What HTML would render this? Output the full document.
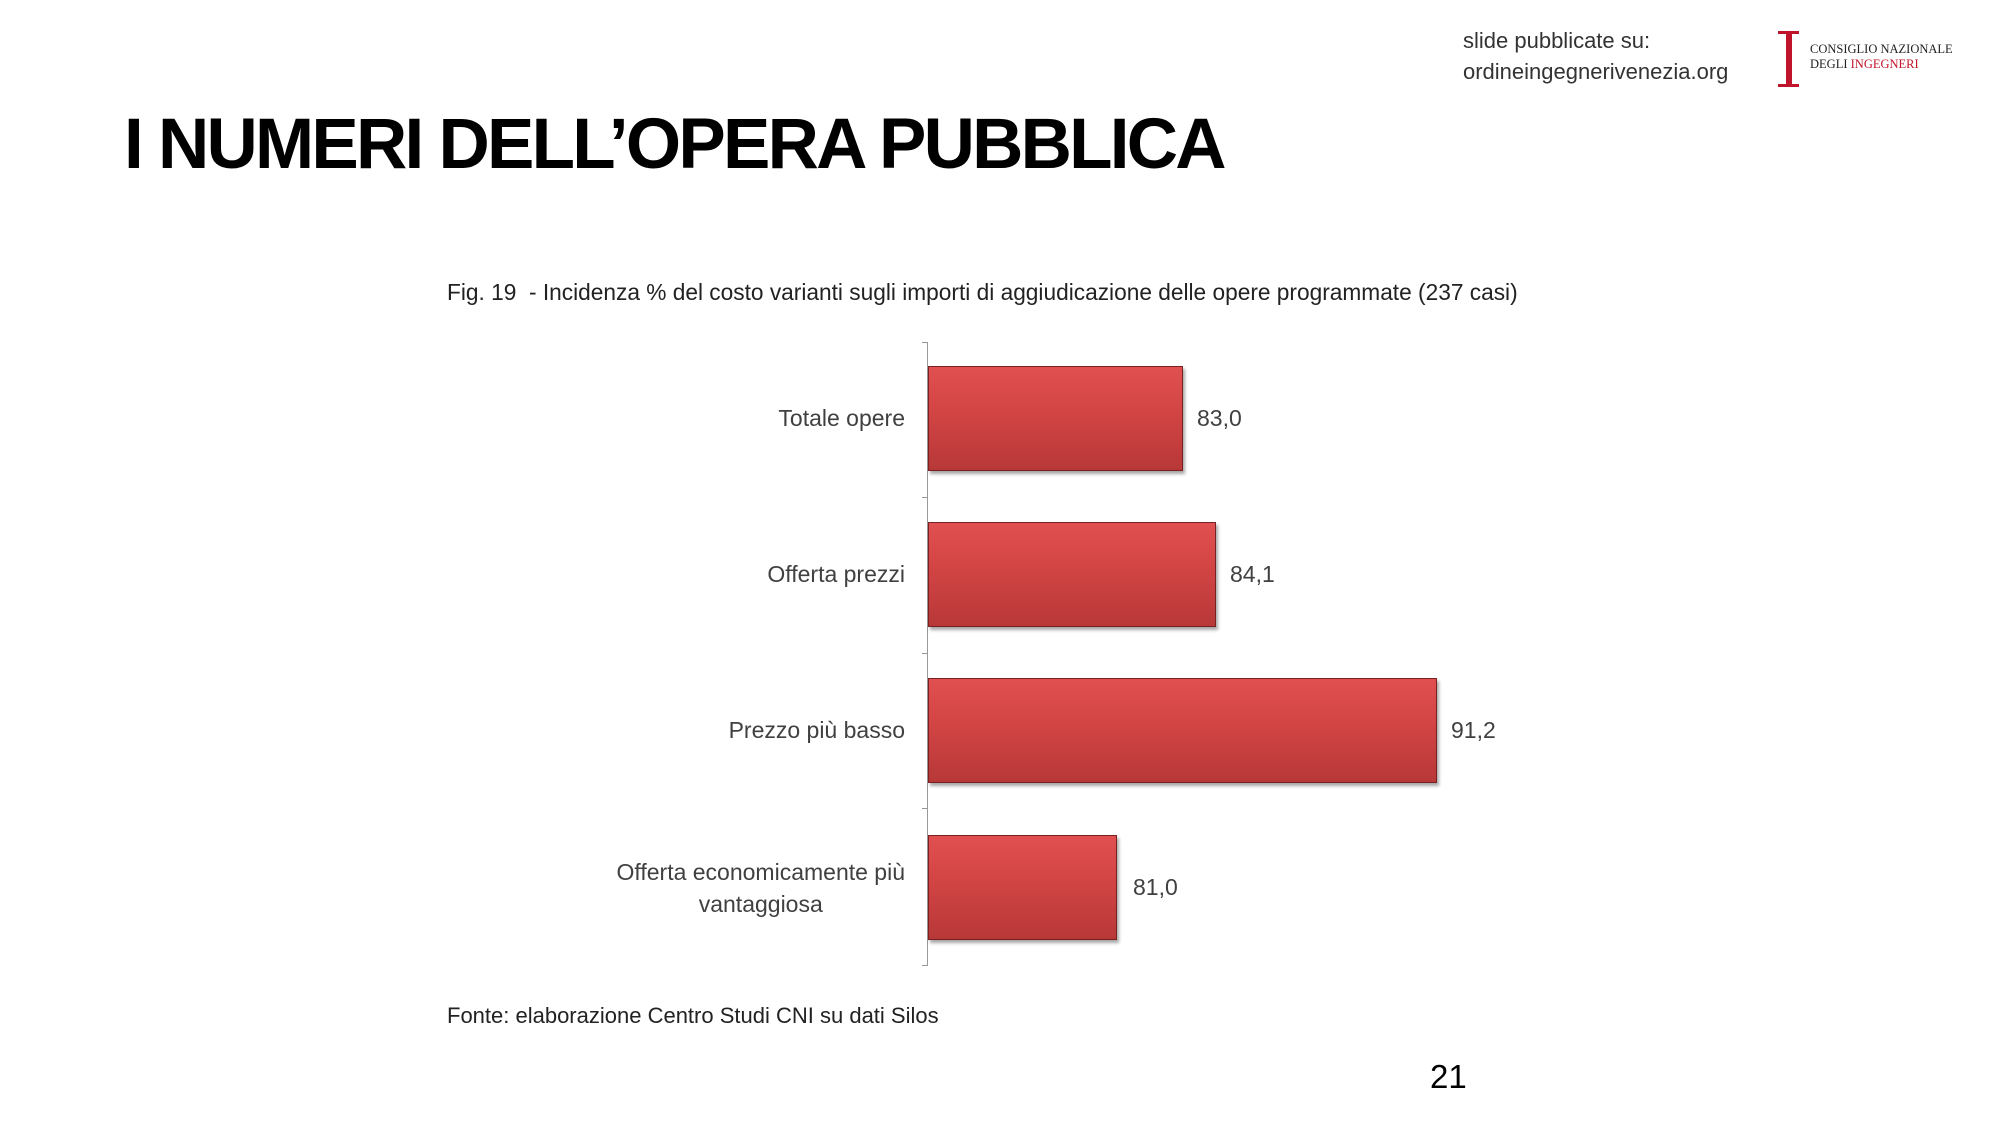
<!DOCTYPE html>
<html><head><meta charset="utf-8"><style>
body{margin:0;width:2000px;height:1125px;background:#fff;position:relative;overflow:hidden;font-family:"Liberation Sans",sans-serif}
.a{position:absolute;white-space:nowrap}
.bar{position:absolute;left:928px;height:105px;background:linear-gradient(180deg,#e05050 0%,#d44545 40%,#b83838 100%);border:1px solid #7a2020;box-shadow:2px 3px 3px rgba(0,0,0,.35);box-sizing:border-box}
.lab{position:absolute;right:1095px;text-align:right;font-size:23px;color:#404040;line-height:32px}
.val{position:absolute;font-size:23px;color:#404040}
.tk{position:absolute;left:922px;width:6px;height:1px;background:#999}
</style></head><body>
<div class="a" style="left:1463px;top:28px;font-size:22px;color:#333">slide pubblicate su:</div>
<div class="a" style="left:1463px;top:59px;font-size:22px;color:#333">ordineingegnerivenezia.org</div>
<div class="a" style="left:1778px;top:31px;width:21px;height:56px">
<div style="position:absolute;left:8px;top:0;width:6px;height:56px;background:#c0142a"></div>
<div style="position:absolute;left:0;top:0;width:21px;height:3px;background:#c0142a"></div>
<div style="position:absolute;left:0;bottom:0;width:21px;height:3px;background:#c0142a"></div></div>
<div class="a" style="left:1810px;top:42px;font-family:'Liberation Serif',serif;font-size:12.5px;color:#222;line-height:15px">CONSIGLIO NAZIONALE<br>DEGLI <span style="color:#c0142a">INGEGNERI</span></div>
<div class="a" style="left:124px;top:104px;font-size:71px;font-weight:bold;color:#000;letter-spacing:-2.75px">I NUMERI DELL’OPERA PUBBLICA</div>
<div class="a" style="left:447px;top:279px;font-size:22.7px;color:#222">Fig. 19&nbsp; - Incidenza % del costo varianti sugli importi di aggiudicazione delle opere programmate (237 casi)</div>
<div class="a" style="left:927px;top:342px;width:1px;height:623px;background:#999"></div>
<div class="tk" style="top:342px"></div><div class="tk" style="top:497px"></div><div class="tk" style="top:653px"></div><div class="tk" style="top:808px"></div><div class="tk" style="top:965px"></div>
<div class="bar" style="top:366px;width:255px"></div>
<div class="bar" style="top:522px;width:288px"></div>
<div class="bar" style="top:678px;width:509px"></div>
<div class="bar" style="top:835px;width:189px"></div>
<div class="lab" style="top:402px">Totale opere</div>
<div class="lab" style="top:558px">Offerta prezzi</div>
<div class="lab" style="top:714px">Prezzo più basso</div>
<div class="lab" style="top:856px;text-align:center">Offerta economicamente più<br>vantaggiosa</div>
<div class="val" style="left:1197px;top:405px">83,0</div>
<div class="val" style="left:1230px;top:561px">84,1</div>
<div class="val" style="left:1451px;top:717px">91,2</div>
<div class="val" style="left:1133px;top:874px">81,0</div>
<div class="a" style="left:447px;top:1003px;font-size:22px;color:#222">Fonte: elaborazione Centro Studi CNI su dati Silos</div>
<div class="a" style="left:1430px;top:1058px;font-size:33px;color:#000">21</div>
</body></html>
